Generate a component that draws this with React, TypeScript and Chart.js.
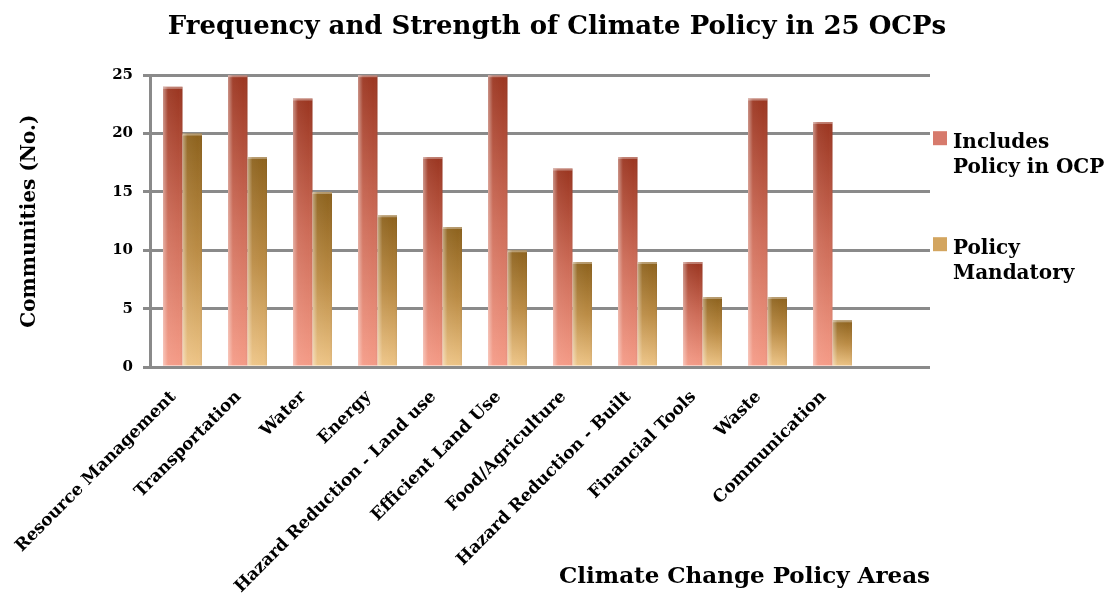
import React, { useEffect, useRef } from 'react';
import { Chart, registerables } from 'chart.js';

Chart.register(...registerables);

const chartTitle = 'Frequency and Strength of Climate Policy in 25 OCPs';
const xTitle = 'Climate Change Policy Areas';
const yTitle = 'Communities (No.)';
const categories = [
  'Resource Management',
  'Transportation',
  'Water',
  'Energy',
  'Hazard Reduction - Land use',
  'Efficient Land Use',
  'Food/Agriculture',
  'Hazard Reduction - Built',
  'Financial Tools',
  'Waste',
  'Communication',
  '',
];
const includesPolicy = [24, 25, 23, 25, 18, 25, 17, 18, 9, 23, 21, null];
const policyMandatory = [20, 18, 15, 13, 12, 10, 9, 9, 6, 6, 4, null];
const seriesLabels = [
  ['Includes', 'Policy in OCP'],
  ['Policy', 'Mandatory'],
];
const yMin = 0;
const yMax = 25;
const yStep = 5;

const FONT = "'DejaVu Serif', serif";
const RED_TOP = '#9b3621';
const RED_MID = '#cd6c58';
const RED_BOTTOM = '#f59c88';
const GOLD_TOP = '#8d621d';
const GOLD_MID = '#bb8c45';
const GOLD_BOTTOM = '#eec587';
const RED_KEY = '#d77a6c';
const GOLD_KEY = '#d3a55f';
const GRID = '#8a8a8a';

const barFill = (top: string, mid: string, bottom: string) => (ctx: any) => {
  const chart = ctx.chart;
  if (!chart.chartArea || ctx.type !== 'data' || ctx.raw == null) return bottom;
  const ys = chart.scales.y;
  const y0 = ys.getPixelForValue(ctx.raw);
  const y1 = ys.getPixelForValue(0);
  const g = chart.ctx.createLinearGradient(0, y0, 0, y1);
  g.addColorStop(0, top);
  g.addColorStop(0.5, mid);
  g.addColorStop(1, bottom);
  return g;
};

const barShine = {
  id: 'barShine',
  afterDatasetsDraw(chart: any) {
    const ctx = chart.ctx;
    chart.data.datasets.forEach((_: any, di: number) => {
      const meta = chart.getDatasetMeta(di);
      meta.data.forEach((el: any) => {
        if (el.skip || el.y == null || isNaN(el.y)) return;
        const left = el.x - el.width / 2;
        const top = el.y;
        const h = el.base - el.y;
        if (h <= 0) return;
        ctx.save();
        const g = ctx.createLinearGradient(left, 0, left + el.width, 0);
        g.addColorStop(0, 'rgba(255,255,255,0.45)');
        g.addColorStop(0.25, 'rgba(255,255,255,0.05)');
        g.addColorStop(0.8, 'rgba(255,255,255,0)');
        g.addColorStop(1, 'rgba(0,0,0,0.06)');
        ctx.fillStyle = g;
        ctx.fillRect(left, top, el.width, h);
        ctx.fillStyle = 'rgba(255,255,255,0.35)';
        ctx.fillRect(left, top, el.width, 2);
        ctx.restore();
      });
    });
  },
};

const sideLegend = {
  id: 'sideLegend',
  afterDraw(chart: any) {
    const ctx = chart.ctx;
    const area = chart.chartArea;
    const keys = [RED_KEY, GOLD_KEY];
    ctx.save();
    ctx.font = `bold 20px ${FONT}`;
    ctx.textBaseline = 'alphabetic';
    ctx.textAlign = 'left';
    seriesLabels.forEach((lines, i) => {
      const top = area.top + 56 + i * 106;
      const bx = area.right + 3;
      ctx.fillStyle = keys[i];
      ctx.fillRect(bx, top, 14, 14);
      ctx.fillStyle = '#000';
      lines.forEach((line, j) => {
        ctx.fillText(line, bx + 20, top + 17 + j * 25);
      });
    });
    ctx.restore();
  },
};

export default function App() {
  const ref = useRef<HTMLCanvasElement | null>(null);
  useEffect(() => {
    document.body.style.margin = '0';
    const canvas = ref.current;
    if (!canvas) return;
    const chart = new Chart(canvas, {
      type: 'bar',
      data: {
        labels: categories,
        datasets: [
          {
            label: seriesLabels[0].join(' '),
            data: includesPolicy,
            backgroundColor: barFill(RED_TOP, RED_MID, RED_BOTTOM),
            borderWidth: 0,
          },
          {
            label: seriesLabels[1].join(' '),
            data: policyMandatory,
            backgroundColor: barFill(GOLD_TOP, GOLD_MID, GOLD_BOTTOM),
            borderWidth: 0,
          },
        ],
      },
      options: {
        responsive: false,
        animation: false,
        devicePixelRatio: 1,
        layout: { padding: { left: 0, right: 0, top: 0, bottom: 15 } },
        datasets: {
          bar: { categoryPercentage: 0.6, barPercentage: 1.0 },
        },
        plugins: {
          legend: { display: false },
          tooltip: { enabled: false },
          title: {
            display: true,
            text: chartTitle,
            color: '#000',
            font: { family: FONT, size: 26, weight: 'bold' },
            padding: { top: 12, bottom: 32 },
          },
        },
        scales: {
          x: {
            grid: { display: false },
            border: { display: false },
            ticks: {
              color: '#000',
              font: { family: FONT, size: 17, weight: 'bold' },
              minRotation: 45,
              maxRotation: 45,
              autoSkip: false,
              padding: 12,
              labelOffset: -9,
            },
            title: {
              display: true,
              text: xTitle,
              align: 'end',
              color: '#000',
              font: { family: FONT, size: 23, weight: 'bold' },
              padding: { top: 4, bottom: 2 },
            },
            afterFit(scale: any) {
              scale.height = 608 - 15 - 367;
            },
          },
          y: {
            min: yMin,
            max: yMax,
            ticks: {
              stepSize: yStep,
              color: '#000',
              font: { family: FONT, size: 15, weight: 'bold' },
              padding: 10,
            },
            grid: { color: GRID, lineWidth: 3, tickLength: 7 },
            border: { color: GRID, width: 3 },
            title: {
              display: true,
              text: yTitle,
              color: '#000',
              font: { family: FONT, size: 20, weight: 'bold' },
              padding: { top: 18, bottom: 4 },
            },
            afterFit(scale: any) {
              scale.width = 150;
            },
          },
          legendSpace: {
            position: 'right',
            display: true,
            grid: { display: false },
            border: { display: false },
            ticks: { display: false },
            afterFit(scale: any) {
              scale.width = 1114 - 930;
            },
          },
        },
      },
      plugins: [barShine, sideLegend],
    });
    return () => chart.destroy();
  }, []);
  return (
    <div style={{ width: 1114, height: 608, background: '#fff' }}>
      <canvas ref={ref} width={1114} height={608} style={{ display: 'block' }} />
    </div>
  );
}
